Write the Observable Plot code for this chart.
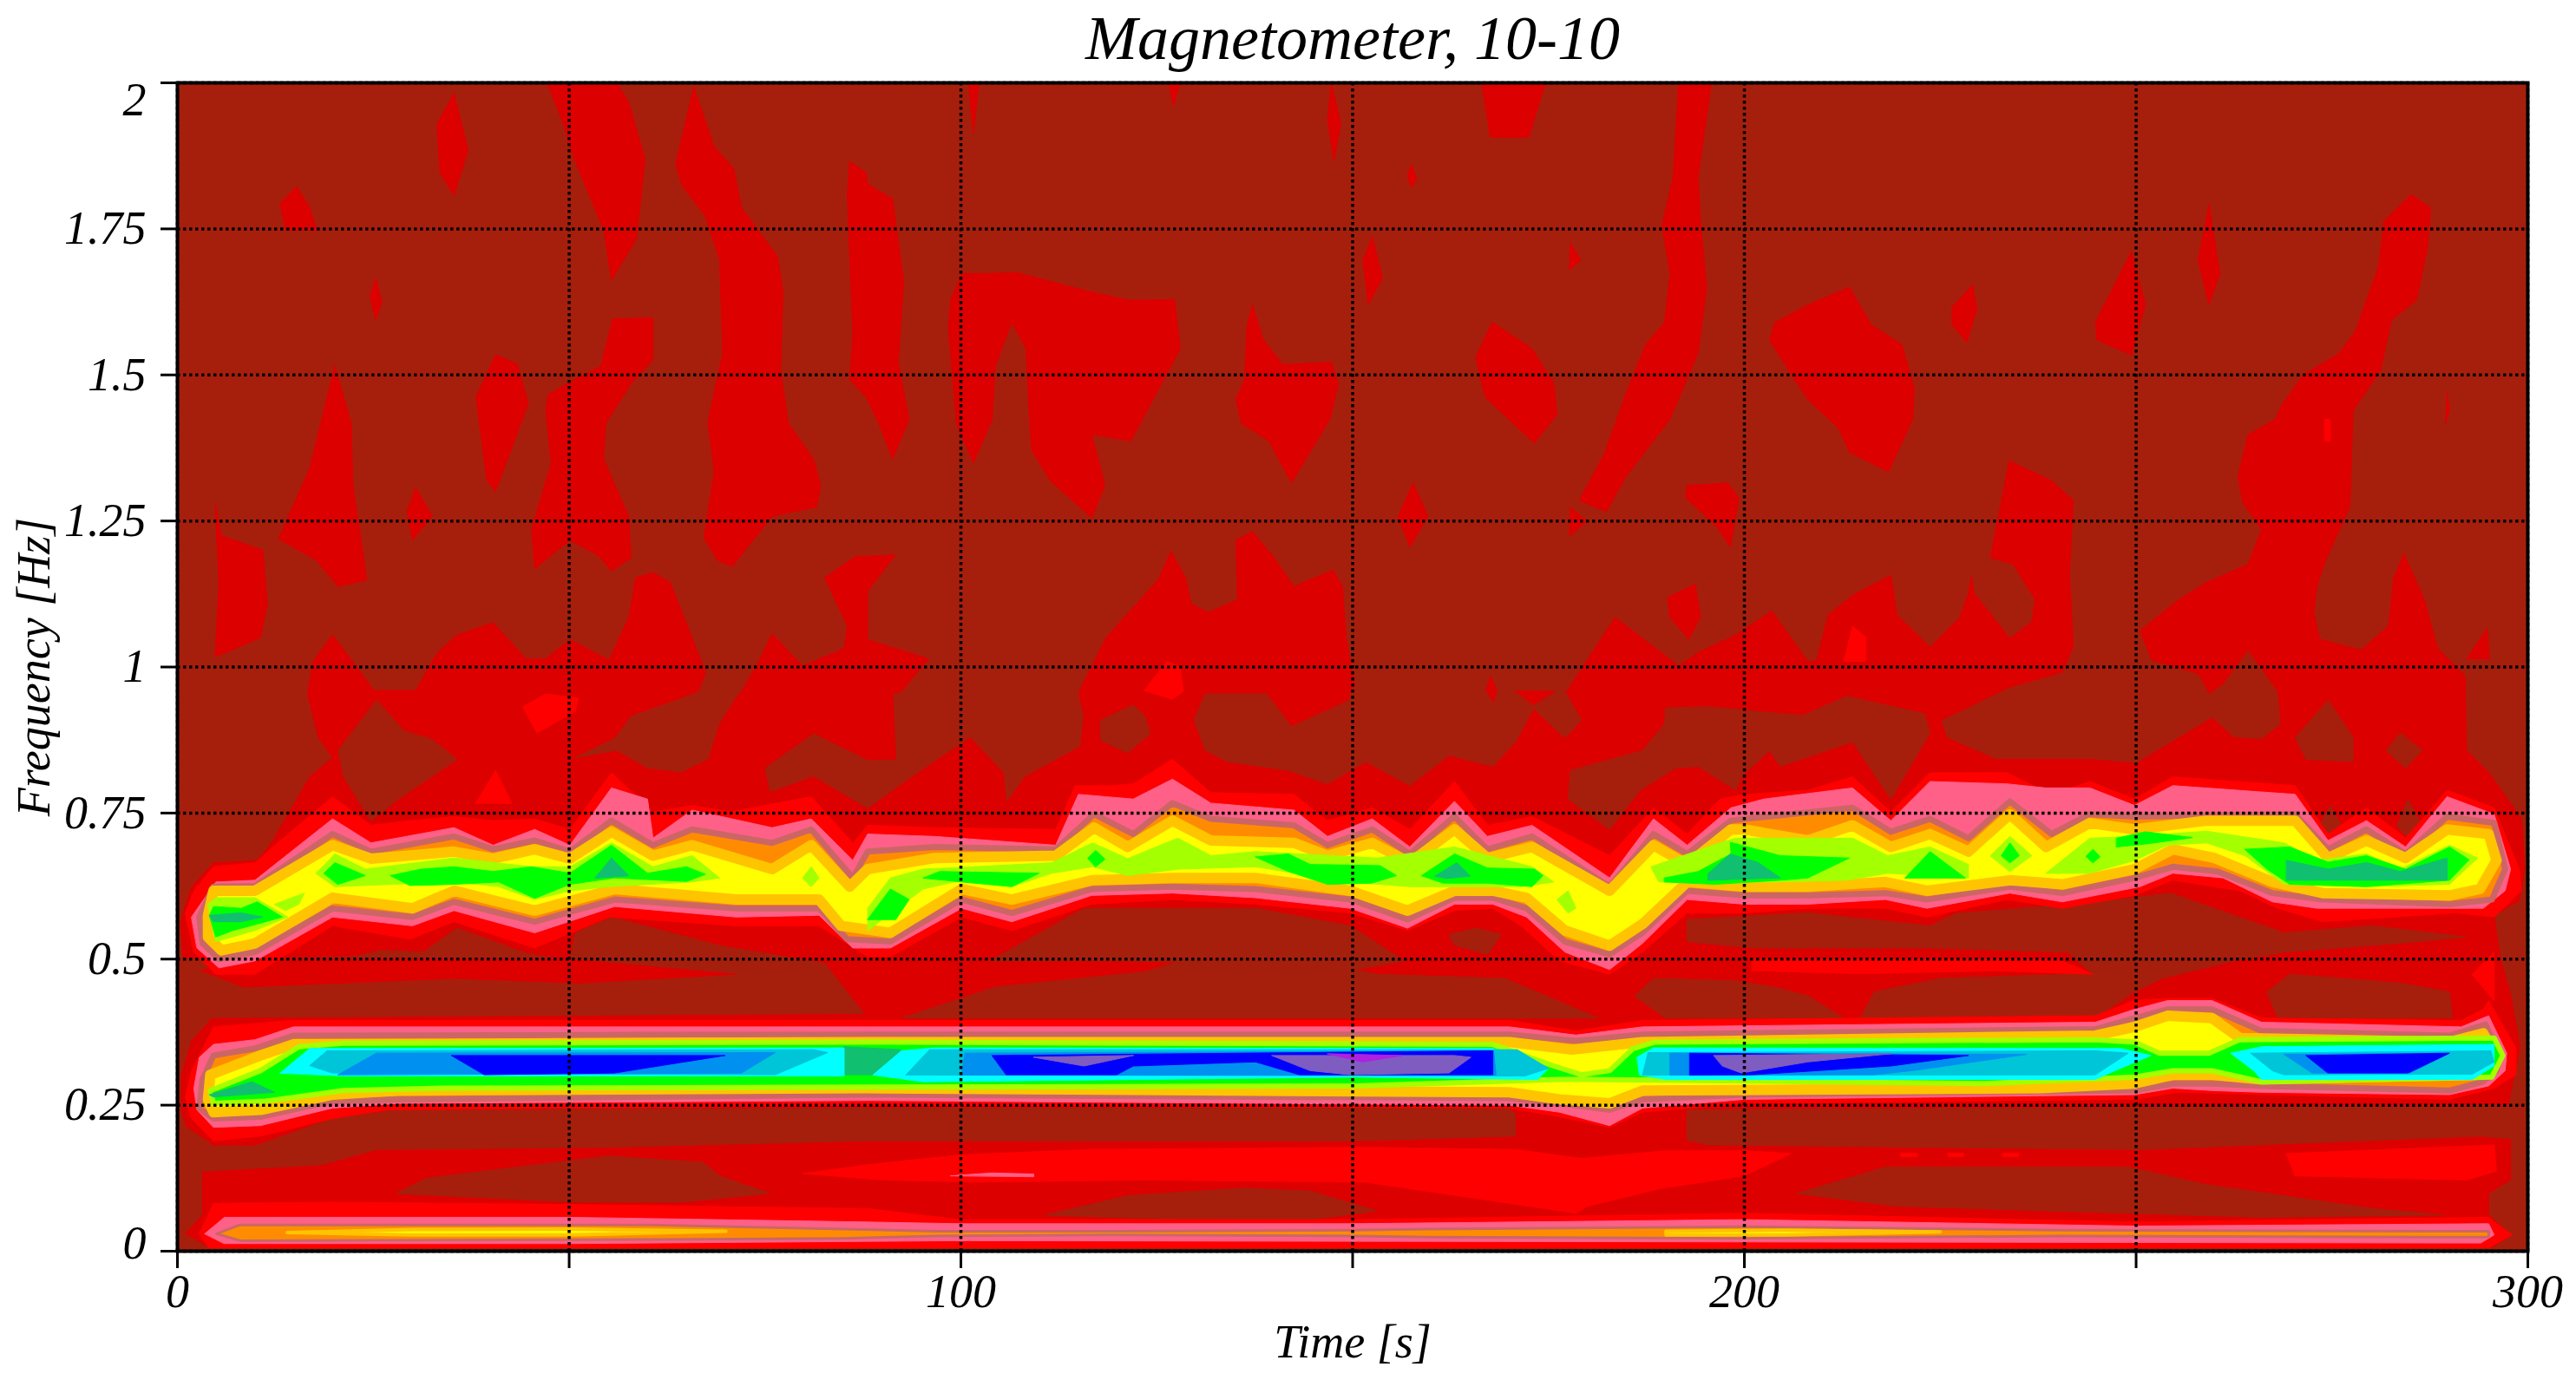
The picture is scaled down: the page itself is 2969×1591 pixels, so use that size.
<!DOCTYPE html>
<html>
<head>
<meta charset="utf-8">
<script src="https://cdn.jsdelivr.net/npm/d3@7"></script>
<script src="https://cdn.jsdelivr.net/npm/@observablehq/plot@0.6"></script>
<style>html,body{margin:0;padding:0;background:#fff;overflow:hidden}</style>
</head>
<body>
<div id="chart"></div>
<script>
const chartTitle = "Magnetometer, 10-10";
const xLabel = "Time [s]";
const yLabel = "Frequency [Hz]";
const xTicks = [0, 50, 100, 150, 200, 250, 300];
const xTickLabels = [0, 100, 200, 300];
const yTicks = [0, 0.25, 0.5, 0.75, 1, 1.25, 1.5, 1.75, 2];

// contour levels, low to high
const levels = [0, 1, 2, 3, 4, 5, 6, 7, 8, 9, 10, 11, 12, 13, 14, 15, 16];
const levelColors = ["#a61f0d", "#dd0000", "#ff0000", "#ff6088", "#cc6666", "#ff8c00", "#ffc400", "#ffff00",
  "#a4ff00", "#00ff00", "#10c070", "#00ffff", "#00c4d8", "#0090f0", "#0000ff", "#7f5cc0", "#b020e0"];

// every contour below is a list of [time s, frequency Hz]
const upperBlobs = [
  [[4.8,1.28],[5.6,1.225],[10.9,1.2],[11.5,1.108],[10.6,1.05],[4.8,1.017],[5.3,1.145]],
  [[20.1,1.515],[22.2,1.417],[22.4,1.311],[24.2,1.149],[20.5,1.138],[17.7,1.183],[12.9,1.219],[16.9,1.341],[19.1,1.462]],
  [[15.2,1.822],[13.1,1.794],[13.8,1.748],[17.8,1.748],[16.9,1.786]],
  [[35.3,1.982],[33.1,1.929],[33.5,1.846],[35.3,1.807],[37.1,1.884]],
  [[25.3,1.665],[24.6,1.635],[25.3,1.594],[26.1,1.624]],
  [[40.6,1.534],[38.1,1.462],[39.5,1.319],[40.6,1.3],[44.8,1.451],[43.4,1.518]],
  [[30.4,1.307],[29.3,1.266],[30,1.217],[32.5,1.258]],
  [[47.2,2],[49.4,1.925],[50,1.891],[54.4,1.748],[55.4,1.662],[58.6,1.733],[59.7,1.869],[57.6,1.967],[56.1,2]],
  [[55.6,1.596],[60.7,1.598],[60.7,1.526],[57.9,1.485],[54.7,1.417],[54.4,1.356],[57.6,1.258],[57.9,1.187],[55.4,1.164],[53.7,1.191],[50.1,1.217],[45.6,1.168],[45.2,1.236],[47.7,1.349],[47,1.439],[47.3,1.466],[50.1,1.488],[54,1.515]],
  [[65.9,1.993],[63.6,1.861],[64.4,1.824],[67.4,1.771],[69.2,1.696],[69.6,1.537],[67.7,1.42],[68.5,1.334],[67.2,1.221],[68.9,1.183],[70.8,1.172],[75.9,1.258],[81.6,1.274],[82.1,1.311],[81.2,1.356],[78,1.417],[77,1.507],[77.3,1.643],[76.6,1.703],[72,1.786],[71,1.854],[68.5,1.891]],
  [[85.8,1.865],[85.5,1.809],[86.2,1.567],[85.8,1.492],[87.9,1.462],[89.5,1.417],[91.3,1.356],[93.4,1.424],[92,1.522],[92.7,1.658],[91.3,1.801],[88.1,1.827],[87.9,1.846]],
  [[101,2],[102.3,2],[101.6,1.913]],
  [[100.1,1.673],[107.2,1.675],[116.4,1.643],[121.3,1.628],[127.3,1.629],[128,1.545],[125.9,1.492],[121.7,1.387],[116.7,1.398],[118.4,1.311],[116.7,1.255],[111.4,1.319],[109,1.372],[108.6,1.462],[108.3,1.545],[106.5,1.59],[104.4,1.515],[104,1.424],[101.6,1.349],[99.4,1.417],[98.4,1.583],[98.7,1.628]],
  [[126.6,2],[128,2],[127.1,1.96]],
  [[147.3,2],[148.5,1.93],[147.6,1.865],[146.8,1.937]],
  [[137.2,1.62],[136.5,1.582],[136.2,1.492],[135.1,1.458],[135.8,1.417],[139.3,1.387],[142.2,1.315],[147.1,1.424],[148.2,1.485],[147.3,1.522],[141.1,1.518],[138.6,1.56]],
  [[166.5,2],[174.6,2],[172.5,1.907],[167.6,1.907]],
  [[157.5,1.86],[158.2,1.835],[157.5,1.82],[157,1.84]],
  [[152.5,1.737],[151.3,1.696],[152,1.62],[153.8,1.665]],
  [[167.8,1.59],[165.7,1.53],[166.9,1.462],[173.2,1.383],[176.1,1.432],[175.7,1.485],[172.9,1.545]],
  [[157.7,1.315],[155.8,1.258],[157.3,1.205],[159.6,1.258]],
  [[177.8,1.726],[179.1,1.696],[177.7,1.68]],
  [[191.6,2],[190.9,1.839],[189.5,1.756],[190.5,1.673],[189.8,1.59],[187.4,1.552],[184.9,1.469],[182.1,1.364],[178.9,1.285],[182.4,1.266],[184.9,1.326],[190.5,1.424],[194.1,1.537],[195.2,1.65],[194.4,1.763],[194.1,1.839],[195.8,2]],
  [[177.8,1.273],[179.9,1.25],[177.7,1.224]],
  [[192.7,1.311],[197.9,1.315],[199.3,1.289],[198.2,1.205],[196.5,1.24],[192.5,1.29]],
  [[213.4,1.65],[208.1,1.62],[203.9,1.59],[203.2,1.56],[206,1.5],[208.1,1.458],[212,1.409],[213.4,1.368],[218.4,1.334],[221.5,1.424],[221.7,1.477],[220.1,1.552],[216.2,1.586]],
  [[229.1,1.654],[226.5,1.616],[226.5,1.586],[228.4,1.556],[229.7,1.613]],
  [[249.4,1.711],[244.8,1.59],[245,1.56],[249.4,1.534],[251.2,1.62]],
  [[259.3,1.792],[257.9,1.696],[259.3,1.62],[260.7,1.673]],
  [[193.7,1.142],[190.2,1.119],[190.5,1.085],[192.9,1.047],[194.4,1.085]],
  [[294.8,1.066],[292.2,1.014],[295.1,1.014]],
  [[289.7,1.47],[290,1.44],[289.5,1.417]]
];

const lowerMass = [[16.6,.954],[17.3,1.01],[19.8,1.055],[21.5,1.025],[25.1,.96],[30.4,.96],[33.2,1.025],[35.7,1.055],[40.3,1.076],[44.5,1.014],[47,1.014],[50.1,1.047],[55.1,1.012],[57.6,1.085],[58.5,1.153],[60.7,1.162],[62.9,1.145],[67.1,1.002],[67.4,.99],[66.5,.958],[57.9,.917],[55.8,.879],[50.1,.842],[56.1,.856],[60,.826],[64.3,.819],[67.8,.842],[69.2,.902],[71.3,.947],[72,.958],[74.2,1.01],[75.9,1.057],[79.8,1.002],[85.1,1.032],[85.5,1.07],[82.6,1.153],[86.5,1.189],[91.7,1.192],[88.1,1.13],[88.1,1.047],[95.9,1.014],[92.4,.958],[91.3,.954],[91.7,.842],[88.1,.842],[81.2,.887],[74.9,.827],[75.6,.785],[81.2,.812],[88.1,.757],[93.8,.812],[101.2,.879],[105.4,.819],[105.8,.767],[108.2,.812],[115.3,.864],[115.7,.917],[115,.956],[118.5,1.05],[125.2,1.15],[126.8,1.198],[128.7,1.153],[129.4,1.108],[131.6,1.094],[135.3,1.115],[135.1,1.217],[137.2,1.232],[140,1.187],[142.5,1.138],[147.5,1.166],[148.7,1.138],[149.2,1.047],[150.3,.964],[177.3,.958],[183.5,1.085],[191.6,1.002],[194.1,1.025],[198.9,1.055],[203.5,1.096],[208.1,1.01],[209.2,1.01],[210.7,1.089],[213.8,1.123],[218.7,1.157],[219.5,1.089],[223.7,1.034],[227.5,1.085],[228.6,1.127],[229,1.157],[229.3,1.127],[233.9,1.049],[236.7,1.078],[237.1,1.115],[234.3,1.176],[231.4,1.187],[232.1,1.236],[233.8,1.353],[239.2,1.319],[242,1.285],[241.5,1.16],[242,1.036],[240.6,.991],[233.8,.965],[225.1,.909],[225.8,.879],[232.1,.842],[244.1,.842],[250,.835],[259.7,.913],[262.5,.879],[266,.876],[268.5,.902],[268.1,.958],[264.3,1.029],[261,.97],[259.3,.955],[258,.988],[252,1.012],[250.5,1.062],[255.4,1.115],[259,1.145],[264.3,1.176],[266,1.236],[263.6,1.281],[263,1.326],[264.3,1.398],[267.8,1.424],[268.5,1.447],[271.3,1.5],[275.9,1.537],[278,1.575],[279.4,1.628],[281,1.688],[281.6,1.763],[285.1,1.809],[287.6,1.786],[287.2,1.718],[285.8,1.628],[282.6,1.594],[281.2,1.507],[277.7,1.439],[277.3,1.274],[274.2,1.183],[273.1,1.138],[272.7,1.093],[273.4,1.048],[278.7,1.029],[282.2,1.07],[282.9,1.153],[284.2,1.194],[286.8,1.115],[288.5,1.032],[292,.985],[292.2,.857],[295,.82],[299.2,.74],[299.6,.654],[298.9,.6],[295.7,.575],[296.5,.5],[297.8,.44],[299,.35],[297.5,.25],[297.8,.189],[297.8,.122],[295,.099],[295,.062],[297.8,.028],[295.7,.0075],[3.9,.0075],[1,.03],[3.2,.062],[3.2,.137],[.5,.24],[.5,.3],[1.8,.36],[4.5,.4],[1,.45],[.4,.564],[1.8,.624],[4.6,.665],[10.2,.669],[12,.699],[16.9,.812],[19.8,.845],[18,.879]];

const holes = [
  [[25.4,.943],[20.5,.857],[21.2,.812],[24.7,.737],[28.2,.774],[35.7,.842],[32.5,.876],[29,.89]],
  [[122,.935],[117.8,.909],[117.8,.875],[121.3,.853],[124.2,.887],[123.4,.917]],
  [[129.8,.909],[131.2,.857],[134,.838],[141.8,.823],[146.8,.8],[151.7,.838],[157.3,.797],[162.3,.849],[167.9,.83],[170.8,.872],[173.2,.932],[170,.965],[150,.965],[149.6,.943],[142.2,.898],[139,.954],[131.2,.954]],
  [[172.9,.932],[176.8,.965],[179.2,.909],[177.1,.879]],
  [[189.8,.902],[187,.857],[177.8,.823],[177.5,.774],[182.8,.722],[186.7,.789],[191.2,.827],[194.1,.83],[198.9,.789],[199.6,.812],[203.2,.857],[204.6,.83],[213.8,.872],[218.7,.774],[223.7,.887],[223,.92],[213.1,.95],[207.4,.917],[195.4,.932],[190,.93]],
  [[274.5,.943],[270.3,.879],[271.7,.842],[277.7,.838],[277.7,.879]],
  [[283.7,.887],[281.9,.857],[284.4,.827],[286.5,.857]],
  [[273.4,.729],[274.8,.763],[276.2,.729],[274.8,.71]],
  [[283.3,.729],[284.7,.774],[286.5,.729],[284.7,.707]],
  // gap between the two bands
  [[4.5,.40],[87.6,.407],[82.6,.493],[69.2,.523],[55.4,.572],[50.8,.545],[50.1,.497],[44.5,.51],[35.7,.553],[31.4,.512],[26.1,.515],[22.6,.504],[7,.50],[0,.50],[0,.38]],
  [[103.7,.497],[115.7,.587],[127.7,.587],[137.6,.587],[149.7,.557],[156.6,.497],[150.3,.482],[153.1,.474],[169.4,.467],[181.4,.399],[92.4,.399],[104.4,.452],[123.4,.478],[127.7,.495],[120,.497]],
  [[162.3,.542],[165.8,.553],[169,.542],[167.2,.508],[163,.524]],
  [[186,.437],[188.4,.467],[198.9,.463],[203.9,.452],[208.1,.437],[212.7,.399],[190,.399]],
  [[192.7,.568],[208.1,.579],[223.7,.557],[227,.578],[246.4,.6],[254.4,.613],[268.9,.545],[280.1,.557],[292.2,.538],[283.7,.527],[268.9,.512],[262.5,.497],[253.3,.467],[249.8,.444],[244.8,.399],[214.8,.399],[216.6,.444],[225,.467],[241.3,.474],[244.5,.474],[241.3,.512],[223.7,.519],[201,.519],[192.7,.53]],
  [[266.7,.444],[269.6,.474],[283.7,.459],[290,.444],[290.4,.399],[268.1,.399]],
  // gap under the 0.3 Hz band
  [[0,.14],[3.2,.137],[18.4,.148],[25.4,.174],[55,.178],[88.1,.189],[116.4,.189],[150,.189],[170.8,.197],[170.8,.234],[170,.245],[88.1,.245],[28.2,.242],[19.8,.227],[9.9,.18],[4.6,.18],[1.4,.21],[0,.2]],
  [[192.7,.242],[300,.25],[300,.19],[294,.197],[250.5,.174],[195.4,.182],[192.7,.19]],
  // pockets under 0.17 Hz
  [[27.9,.099],[31.8,.125],[55.1,.163],[67.1,.152],[69.2,.129],[75.6,.099],[64.3,.084],[50.8,.084]],
  [[110.7,.062],[121.3,.095],[136.2,.108],[144.6,.103],[153.1,.069],[144.6,.054],[127.7,.054]],
  [[206.7,.099],[218,.144],[249.1,.144],[259,.114],[280.2,.073],[289.3,.062],[266,.058],[219.4,.077]]
];

const tongues = [
  [[7,.50],[22,.50],[50,.50],[71.3,.474],[51.6,.459],[35.3,.467],[21.2,.459],[8.5,.452],[3,.48]],
  [[167,.96],[167.6,.985],[168.4,.96],[168,.94]]
];

const redPatches = [
  [[79.8,.133],[88.1,.148],[100,.165],[116.4,.174],[150.3,.178],[170.8,.174],[179.2,.159],[190,.172],[200,.172],[206,.167],[200,.129],[189.2,.107],[180,.077],[178.5,.065],[151.7,.118],[123.4,.122],[102.3,.118],[90,.122]],
  [[269.2,.167],[295.7,.182],[296,.137],[292.2,.122],[270.3,.129]],
  [[44.1,.932],[47,.954],[51.2,.947],[50.8,.924],[45.9,.887]],
  [[123.4,.96],[126.3,1.01],[128,1.0],[128.4,.958],[127,.945]],
  [[212.7,1.01],[213.8,1.07],[215.5,1.051],[215.5,1.01]],
  [[38.1,.767],[40.6,.823],[42.7,.767]],
  [[274.1,1.424],[274.8,1.424],[274.8,1.387],[274.1,1.387]],
  [[292.9,.474],[295.7,.512],[295.7,.429]],
  [[201,.5],[240,.5],[244.5,.474],[232,.48],[215,.475],[201,.48]],
  [[220,.168],[222,.168],[222,.162],[220,.162]],
  [[226,.168],[228,.168],[228,.162],[226,.162]],
  [[233,.168],[235,.168],[235,.162],[233,.162]]
];

const bandHighRed = [[1,.579],[2.1,.617],[4.6,.658],[9.9,.665],[14.8,.722],[19.8,.778],[24.7,.729],[29.7,.737],[35.3,.744],[40.3,.737],[45.6,.74],[50.1,.722],[55.4,.819],[60.7,.752],[65.7,.763],[70.6,.752],[80.9,.778],[86.2,.699],[88.1,.729],[96.6,.725],[112.1,.722],[114.6,.797],[119.2,.797],[122,.8],[127,.842],[131.9,.785],[142.5,.782],[146.8,.737],[152.5,.759],[157.3,.722],[163,.804],[167.2,.729],[172.9,.744],[182.8,.677],[188.4,.759],[192.7,.714],[196.9,.774],[200,.782],[208.1,.789],[213.8,.812],[218.7,.752],[223.7,.819],[233.5,.819],[239.2,.782],[244.1,.804],[249.8,.774],[254.7,.812],[270.3,.797],[274.5,.714],[279.4,.759],[284.4,.707],[289.7,.789],[295.7,.759],[298.9,.654],[299.2,.617],[295.7,.572],[290.7,.579],[273.8,.564],[268.1,.587],[263.2,.617],[254.7,.635],[249.8,.609],[240.6,.587],[233.5,.602],[223.3,.572],[218,.587],[208.1,.587],[200,.579],[192.7,.579],[187,.512],[182.8,.474],[176.4,.497],[171.5,.557],[167.9,.587],[163,.583],[157,.549],[149.7,.579],[137.6,.594],[127,.602],[116.7,.594],[106.5,.549],[100.1,.572],[91,.504],[88.1,.504],[81.9,.557],[71.3,.557],[55.1,.572],[45.6,.519],[35.3,.564],[29.7,.534],[19.8,.557],[9.9,.474],[4.9,.474],[2.1,.512]];

const bandHighPink = [[1.8,.572],[4.9,.632],[9.9,.635],[19.8,.74],[24.7,.699],[35.3,.725],[40.3,.695],[45.6,.722],[50.1,.695],[55.4,.793],[60,.774],[60.7,.707],[65.7,.755],[75.9,.725],[80.9,.74],[86.2,.669],[88.1,.714],[96.6,.71],[112.1,.695],[115,.782],[122,.774],[127,.808],[131.9,.767],[142.5,.755],[146.8,.71],[152.5,.74],[157.3,.692],[163,.77],[167.2,.71],[172.9,.729],[182.8,.639],[188.4,.74],[192.7,.695],[198.3,.759],[202.5,.774],[213.8,.793],[218.7,.737],[223.7,.804],[233.5,.8],[238.5,.793],[244.1,.793],[249.8,.763],[254.7,.797],[270.3,.782],[274.5,.703],[279.4,.737],[284.4,.692],[289.7,.778],[295.7,.748],[297.8,.654],[297.1,.617],[294.3,.587],[273.1,.587],[267.4,.598],[261.1,.639],[254.7,.647],[250.5,.624],[240.6,.598],[233.9,.613],[223.3,.587],[218,.602],[208.1,.594],[200,.594],[192.7,.602],[187,.527],[182.8,.482],[177.1,.512],[172.2,.572],[167.9,.594],[163,.594],[157,.553],[149.7,.587],[137.6,.605],[127,.613],[116.7,.609],[106.5,.564],[100.1,.587],[91,.519],[86.2,.519],[81.9,.575],[71.3,.572],[55.8,.59],[45.6,.545],[35.3,.583],[30,.557],[19.8,.572],[9.9,.497],[5.3,.485],[2.5,.519]];

const bandHighOrange = [[2.8,.572],[4.6,.624],[9.9,.625],[19.8,.714],[24.7,.684],[35.3,.71],[40.3,.688],[45.6,.703],[50.1,.684],[55.4,.737],[60.7,.695],[65.7,.722],[75.9,.699],[80.9,.722],[86.2,.639],[88.1,.684],[96.6,.692],[112.1,.688],[117,.748],[122,.714],[127,.767],[131.9,.74],[142.5,.729],[146.8,.695],[152.5,.722],[157.3,.68],[163,.744],[167.2,.688],[172.9,.71],[182.8,.624],[188.4,.714],[192.7,.68],[198.3,.737],[200,.74],[213.8,.759],[218.7,.718],[223.7,.74],[228.6,.707],[233.9,.77],[239.2,.714],[244.1,.748],[249.8,.744],[270.3,.748],[274.5,.688],[279.4,.722],[284.4,.68],[289.7,.744],[295.7,.733],[297.1,.654],[295.4,.602],[290,.594],[273.8,.602],[267.4,.613],[260.4,.65],[254.7,.658],[249.8,.639],[240.6,.613],[233.9,.624],[223.3,.602],[218,.613],[208.1,.609],[200,.609],[192.7,.617],[187,.545],[182.8,.508],[177.1,.53],[172.2,.587],[167.9,.605],[163,.605],[157,.568],[149.7,.602],[137.6,.62],[127,.624],[116.7,.62],[106.5,.579],[100.1,.602],[91,.53],[85.5,.534],[81.9,.587],[71.3,.587],[55.8,.602],[45.6,.564],[35.3,.598],[30,.572],[19.8,.587],[9.9,.512],[5.3,.5],[3.2,.527]];

const bandHighYellow = [[3.9,.575],[4.6,.617],[9.9,.617],[19.8,.695],[24.7,.672],[35.3,.684],[40.3,.672],[45.6,.688],[50.1,.672],[55.4,.718],[60.7,.677],[65.7,.695],[75.9,.654],[80.9,.695],[85.8,.624],[88.1,.654],[96.6,.673],[112.1,.677],[117,.725],[121.3,.692],[127,.737],[131.9,.703],[142.5,.699],[146.8,.677],[152.5,.699],[157.3,.665],[163,.722],[167.2,.673],[172.9,.692],[182.8,.617],[188.4,.695],[192.7,.662],[198.3,.722],[200,.722],[208.1,.703],[213.8,.729],[218.7,.692],[223.7,.714],[228.6,.684],[233.9,.748],[238.5,.692],[244.1,.733],[249.8,.722],[259,.737],[270.3,.737],[274.5,.673],[279.4,.703],[284.4,.673],[289.7,.722],[295,.714],[296,.669],[293.9,.62],[290,.609],[273.8,.613],[267.4,.632],[260,.673],[254.7,.688],[249.8,.654],[240.6,.628],[233.9,.635],[223.3,.617],[218,.632],[208.1,.624],[200,.624],[192.7,.632],[187,.56],[182.8,.523],[177.1,.549],[172.2,.605],[167.9,.617],[163,.617],[157,.583],[149.7,.617],[137.6,.639],[127,.639],[116.7,.635],[106.5,.602],[100.1,.62],[91,.545],[84.7,.557],[81.9,.602],[71.3,.602],[55.8,.62],[45.6,.583],[35.3,.617],[30,.587],[19.8,.605],[9.9,.527],[5.6,.515],[3.9,.538]];

const bandHighLime = [
  [[12.4,.594],[16.2,.613],[15.5,.594],[13.8,.583]],
  [[17.7,.647],[20.1,.68],[24,.654],[35.3,.673],[45.2,.658],[50.1,.658],[55.4,.699],[60.7,.658],[65.7,.677],[69.2,.639],[65.7,.632],[55.1,.624],[50.1,.617],[45.6,.602],[41,.624],[35.3,.632],[27.5,.628],[20.1,.624]],
  [[79.8,.639],[80.9,.658],[81.9,.639],[80.9,.624]],
  [[3.9,.594],[4.9,.605],[9.9,.605],[14.1,.572],[9.9,.549],[4.9,.53]],
  [[88.1,.549],[88.1,.587],[91,.639],[95.2,.654],[101.6,.658],[111.6,.665],[116.8,.699],[121.3,.672],[124.9,.692],[127.7,.707],[131.9,.677],[137.6,.684],[153.1,.673],[163,.692],[172.9,.658],[175.7,.632],[171.5,.624],[157.3,.624],[149.7,.632],[137.6,.658],[127.7,.654],[121.3,.643],[116.8,.658],[111.6,.647],[106.5,.624],[100.1,.635],[95.2,.62]],
  [[176.1,.602],[177.5,.617],[178.5,.587],[177.5,.579]],
  [[188.1,.658],[196.9,.699],[198.9,.707],[213.8,.707],[218.3,.677],[223.7,.692],[228.6,.662],[228.6,.639],[218.3,.647],[213,.635],[203.9,.632],[195.4,.632],[189.1,.632]],
  [[231.4,.677],[233.9,.71],[236.7,.677],[233.9,.65]],
  [[238.5,.647],[244.1,.707],[249.8,.71],[259,.719],[268.9,.699],[273.1,.669],[279.4,.68],[283.7,.654],[290,.695],[293.6,.673],[290,.628],[279.4,.624],[268.9,.628],[263.9,.677],[259,.699],[254,.695],[249.8,.669],[244.1,.647]]
];

const bandHighGreen = [
  [[4.1,.575],[4.6,.59],[8.1,.587],[10.2,.598],[13.4,.572],[10.2,.56],[7.1,.549],[4.9,.538]],
  [[18.7,.647],[20.1,.665],[24,.643],[20.5,.628]],
  [[27.2,.643],[31.1,.654],[35.3,.658],[40.3,.65],[45.2,.658],[50.1,.647],[55.4,.695],[60,.647],[65,.658],[67.4,.645],[65,.633],[55.8,.639],[50.1,.628],[45.6,.604],[41,.632],[35.3,.628],[29.7,.626]],
  [[88.1,.568],[91,.62],[93.4,.602],[91.7,.568]],
  [[95.2,.639],[97.3,.65],[110,.647],[106.5,.624],[100.1,.632]],
  [[116.2,.673],[117.2,.686],[118.4,.671],[117.2,.658]],
  [[137.6,.675],[141.8,.68],[144.6,.662],[153.5,.66],[155.6,.643],[152.4,.63],[146.8,.628],[141.8,.65]],
  [[158.8,.643],[163,.68],[167.2,.656],[173.2,.654],[174.3,.643],[172.9,.624],[167.2,.63],[161.6,.63]],
  [[189.8,.639],[194.1,.65],[198.3,.68],[198.2,.7],[204.6,.677],[213.4,.673],[208.1,.639],[204.6,.635],[196.2,.628],[189.8,.632]],
  [[220.5,.639],[223.7,.684],[228.2,.639]],
  [[232.8,.677],[233.9,.699],[235.1,.677],[233.9,.665]],
  [[243.6,.676],[244.5,.688],[245.4,.675],[244.5,.665]],
  [[247.5,.707],[251.2,.718],[257.2,.708],[251.2,.697],[247.5,.692]],
  [[263.9,.688],[269.6,.692],[274.5,.666],[279.4,.677],[284.4,.654],[290,.692],[292.5,.67],[290,.635],[279.4,.624],[269.6,.628],[266.7,.654]]
];

const bandHighTeal = [
  [[4.1,.575],[8.1,.579],[10.9,.572],[8.1,.564],[4.6,.564]],
  [[53.3,.639],[55.4,.673],[57.6,.643]],
  [[160.5,.642],[163.3,.665],[165,.642],[162,.638]],
  [[195.4,.647],[198.2,.68],[201.8,.665],[204.6,.639],[195.4,.635]],
  [[269.2,.669],[274.5,.654],[279.4,.665],[283.7,.65],[289.7,.673],[289.7,.635],[274.5,.635],[269.2,.635]]
];

const bandLowRed = [[1,.264],[1.8,.309],[4.6,.384],[14.8,.395],[88,.395],[170,.395],[178.5,.377],[187,.395],[244.8,.403],[249.8,.429],[254,.433],[259.7,.433],[266,.399],[291.5,.395],[294.3,.414],[295,.429],[298.5,.347],[298.5,.302],[295.7,.279],[290,.26],[255.4,.272],[249.8,.26],[200,.253],[187,.238],[182.8,.212],[176.4,.23],[170,.245],[88,.25],[26.8,.242],[19.8,.227],[10.6,.197],[4.6,.189],[1.8,.227]];

const bandLowPink = [[2.1,.279],[2.8,.332],[4.6,.354],[9.9,.362],[14.8,.384],[88,.384],[170,.384],[178.5,.37],[187,.384],[244.8,.392],[249.8,.414],[254,.429],[259.7,.429],[266,.392],[291.5,.384],[295,.403],[297.3,.339],[297.1,.309],[295,.283],[290,.268],[266,.272],[259.7,.275],[254.7,.279],[249.8,.268],[200,.26],[187,.245],[182.8,.215],[176.4,.238],[170,.25],[88,.258],[28.2,.253],[19.8,.245],[10.6,.215],[4.6,.212],[2.5,.242]];

const bandLowOrange = [[3.2,.294],[4.6,.335],[9.9,.347],[14.8,.369],[88,.371],[170,.371],[178.5,.36],[187,.371],[244.8,.38],[249.8,.399],[254,.414],[259.7,.414],[266,.377],[290,.369],[294.6,.388],[296.4,.339],[296,.309],[294.3,.29],[290,.275],[266,.283],[259.7,.287],[254.7,.287],[249.8,.275],[200,.268],[187,.26],[182.8,.242],[176.4,.253],[170,.262],[88,.268],[28.2,.26],[19.8,.257],[10.6,.23],[4.6,.227],[2.8,.245]];

const bandLowYellow = [[4.2,.302],[10.6,.335],[14.8,.354],[88,.358],[170,.358],[178,.345],[187,.358],[244.8,.369],[249.8,.384],[254,.403],[259.7,.399],[263.2,.365],[290,.358],[294.3,.373],[295.7,.339],[295.4,.313],[294,.302],[266,.294],[259.7,.302],[254.7,.302],[249.8,.287],[237.8,.279],[187,.275],[182.8,.253],[176.4,.26],[170,.272],[88,.279],[28.2,.275],[19.8,.268],[10.6,.242],[4.6,.238],[3.9,.26]];

const bandLowGreen = [
  [[4.2,.275],[10.6,.309],[15.5,.35],[21.2,.356],[88,.358],[167.9,.354],[175.7,.317],[179.2,.302],[182.8,.309],[185.8,.347],[188.6,.358],[244.8,.362],[249.8,.358],[253,.339],[259.3,.339],[263.2,.362],[295.7,.365],[296.8,.335],[295.4,.298],[266,.29],[259.7,.309],[254.7,.309],[249.8,.298],[230.7,.287],[180,.294],[176.4,.294],[150.3,.283],[33.9,.279],[21.2,.275],[11.3,.257],[4.6,.253]]
];

const bandLowTeal = [
  [[4.1,.268],[9.5,.29],[12.4,.272],[4.6,.264]],
  [[85,.35],[92.4,.345],[90.2,.302],[85,.302]]
];
const bandLowCyan = [
  [[13.1,.305],[16.9,.347],[85.1,.348],[85.1,.3],[21.2,.3]],
  [[88.8,.302],[92.4,.343],[96.6,.348],[167.9,.347],[172.9,.328],[175,.313],[173.6,.294],[150.3,.298],[95.2,.29]],
  [[186.6,.302],[186.3,.332],[188.4,.348],[248,.347],[251.9,.335],[247.3,.309],[244.8,.294],[190,.294]],
  [[262.1,.339],[266,.35],[295.7,.354],[295.7,.317],[292.9,.294],[266,.294],[265,.309]]
];
const bandLowTurquoise = [
  [[16.9,.318],[19.1,.343],[81.2,.345],[83,.34],[76.3,.302],[19.8,.305]],
  [[93,.302],[96,.345],[171,.345],[175,.313],[172,.3]],
  [[187,.302],[187.7,.34],[244.8,.343],[249,.339],[244.8,.302]],
  [[267.4,.309],[264.6,.339],[295.3,.343],[295.7,.324],[292.9,.303],[268.9,.302]]
];
const bandLowAzure = [
  [[20.5,.302],[25.4,.339],[76.3,.34],[72,.305]],
  [[100.1,.302],[100.5,.339],[168,.343],[168.3,.302]],
  [[190.5,.302],[190.5,.339],[236,.337],[222,.31],[216.6,.302]],
  [[268.9,.337],[290,.339],[285,.305],[272.5,.305]]
];
const bandLowBlue = [
  [[35,.335],[69.9,.335],[55.8,.305],[39.2,.302]],
  [[104,.335],[167.9,.343],[167.9,.302],[143.2,.302],[137.6,.324],[122,.317],[119.9,.302],[105.8,.302]],
  [[193,.302],[193,.339],[228.6,.335],[218.7,.317],[208.1,.308],[201,.302]],
  [[271.7,.335],[290,.339],[284.7,.305],[274.5,.305]]
];
const bandLowViolet = [
  [[109.3,.332],[115.7,.317],[122,.335]],
  [[139.7,.335],[163,.335],[165.1,.332],[162.3,.305],[149.6,.302],[144.6,.309]],
  [[196.1,.335],[218.7,.338],[208.1,.324],[199.6,.305],[197.2,.317]]
];
const bandLowMagenta = [[[146.8,.338],[156.3,.335],[151.3,.324]]];

const dcRed = [[2.8,.03],[4.6,.082],[20,.084],[50,.08],[88,.073],[100,.054],[150,.054],[200,.065],[250,.05],[295,.058],[298,.028],[295,.006],[4,.006]];
const dcPink = [[3.5,.03],[6,.058],[50,.058],[88,.05],[100,.047],[150,.047],[200,.054],[250,.043],[295,.047],[295.7,.028],[294,.014],[100,.018],[50,.013],[6,.013]];
const dcOrange = [
  [[5,.03],[8,.045],[60,.045],[85,.038],[97,.034],[120,.034],[150,.036],[160,.038],[200,.042],[240,.036],[295,.034],[295,.024],[240,.026],[200,.022],[160,.024],[150,.026],[120,.028],[97,.026],[85,.022],[60,.02],[8,.018]]
];
const dcYellow = [
  [[14,.032],[30,.037],[50,.038],[70,.034],[50,.028],[30,.028]],
  [[190,.034],[205,.036],[225,.033],[205,.028],[190,.028]]
];
const dcFleck = [[[98.7,.129],[104,.134],[109.3,.132],[109.3,.128]]];

// paint order: [level, ring level, ring width, contours]
const layers = [
  [1, 1, 1, upperBlobs],
  [1, 1, 1, [lowerMass]],
  [0, 0, 1, holes],
  [1, 1, 1, tongues],
  [2, 2, 1, redPatches],
  [2, 2, 1, [bandHighRed, bandLowRed, dcRed]],
  [3, 3, 1, [bandHighPink, bandLowPink, dcPink]],
  [3, 3, 1, dcFleck],
  [5, 4, 7, [bandHighOrange, bandLowOrange]],
  [5, 4, 3, dcOrange],
  [7, 6, 12, [bandHighYellow, bandLowYellow]],
  [7, 6, 4, dcYellow],
  [8, 8, 1, bandHighLime],
  [9, 8, 6, bandLowGreen],
  [9, 9, 1, bandHighGreen],
  [10, 10, 1, bandHighTeal],
  [10, 10, 1, bandLowTeal],
  [11, 11, 1, bandLowCyan],
  [12, 12, 1, bandLowTurquoise],
  [13, 13, 1, bandLowAzure],
  [14, 14, 1, bandLowBlue],
  [15, 15, 1, bandLowViolet],
  [16, 16, 1, bandLowMagenta]
];

const contourRows = layers.flatMap(([level, ring, ringWidth, contours], i) =>
  contours.flatMap((contour, j) =>
    contour.map(([t, f]) => ({t, f, level, ring, ringWidth, id: `${i}-${j}`}))));

const plainNumber = (d) => String(d);

const plot = Plot.plot({
  width: 2969,
  height: 1591,
  marginLeft: 204,
  marginRight: 56,
  marginTop: 95,
  marginBottom: 149,
  style: {background: "#fff", fontFamily: "'Liberation Serif', serif", fontStyle: "italic", fontSize: "54px", color: "#000"},
  x: {domain: [0, 300], label: null},
  y: {domain: [0, 2], label: null},
  color: {type: "ordinal", domain: levels, range: levelColors},
  marks: [
    Plot.frame({fill: levelColors[0], stroke: null}),
    Plot.line(contourRows, {x: "t", y: "f", z: "id", fill: "level", stroke: "ring", strokeWidth: "ringWidth", curve: "linear-closed", strokeLinejoin: "round", clip: true}),
    Plot.ruleX(xTicks, {stroke: "#000", strokeWidth: 3.5, strokeDasharray: "3.5 3.5"}),
    Plot.ruleY(yTicks, {stroke: "#000", strokeWidth: 3.5, strokeDasharray: "3.5 3.5"}),
    Plot.frame({stroke: "#000", strokeWidth: 4}),
    Plot.axisX({ticks: xTicks, tickSize: 20, strokeWidth: 3, stroke: "#000", fill: "none", label: null}),
    Plot.axisX({ticks: xTickLabels, tickSize: 0, tickPadding: 26, tickFormat: plainNumber, label: xLabel, labelAnchor: "center", labelArrow: "none", labelOffset: 122, fontSize: 54}),
    Plot.axisY({ticks: yTicks, tickSize: 19, strokeWidth: 3, stroke: "#000", fill: "none", label: null}),
    Plot.axisY({ticks: yTicks.slice(1, -1), tickSize: 0, tickPadding: 36, tickFormat: plainNumber, label: null, fontSize: 54}),
    Plot.axisY({ticks: [2], tickSize: 0, tickPadding: 36, tickFormat: plainNumber, dy: 20, label: null, fontSize: 54}),
    Plot.axisY({ticks: [0], tickSize: 0, tickPadding: 36, tickFormat: plainNumber, dy: -9, label: null, fontSize: 54}),
    Plot.text([yLabel], {frameAnchor: "left", textAnchor: "middle", dx: -165, rotate: -90, fontSize: 54}),
    Plot.text([chartTitle], {frameAnchor: "top", lineAnchor: "bottom", dy: -28, fontSize: 72})
  ]
});
document.getElementById("chart").appendChild(plot);
</script>
</body>
</html>
